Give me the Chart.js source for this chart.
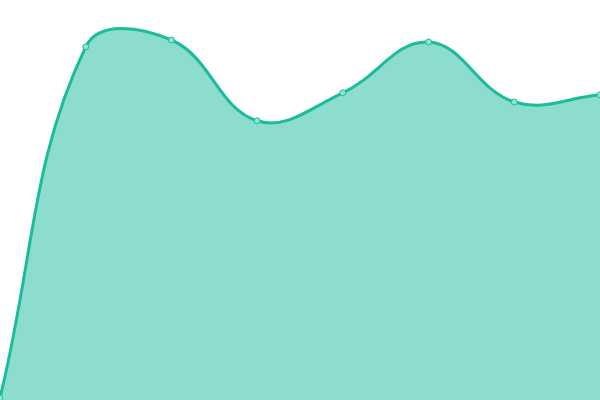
<!DOCTYPE html>
<html>
<head>
<meta charset="utf-8">
<script src="https://cdn.jsdelivr.net/npm/chart.js@4/dist/chart.umd.min.js"></script>
<style>
  html, body { margin: 0; padding: 0; background: #ffffff; }
  #wrap { width: 600px; height: 400px; }
</style>
</head>
<body>
<div id="wrap"><canvas id="areaChart"></canvas></div>
<script>
/**category labels along the hidden x axis */
const labels = ["1", "2", "3", "4", "5", "6", "7", "8"];
/**series values */
const values = [0.5, 88.3, 90, 69.8, 76.8, 89.5, 74.5, 76.3];
/**value range of the hidden y axis */
const yMin = 0;
const yMax = 100;

const ctx = document.getElementById("areaChart").getContext("2d");
let areaChart = new Chart(ctx, {
    type: "line",
    data: {
        labels: labels,
        datasets: [
            {
                data: values,
                fill: true,
                tension: 0.4,
                borderColor: "#1abc9c",
                backgroundColor: "rgba(26, 188, 156, 0.5)",
                borderWidth: 3,
                pointRadius: 3,
                pointBorderWidth: 1,
                pointBackgroundColor: "#93e3d3",
                pointBorderColor: "#1abc9c",
            },
        ],
    },
    options: {
        animation: false,
        responsive: true,
        maintainAspectRatio: false,
        layout: { padding: 0, autoPadding: false },
        plugins: {
            legend: { display: false },
            tooltip: { enabled: false },
        },
        scales: {
            x: { display: false },
            y: { display: false, min: yMin, max: yMax },
        },
    },
});
</script>
</body>
</html>
